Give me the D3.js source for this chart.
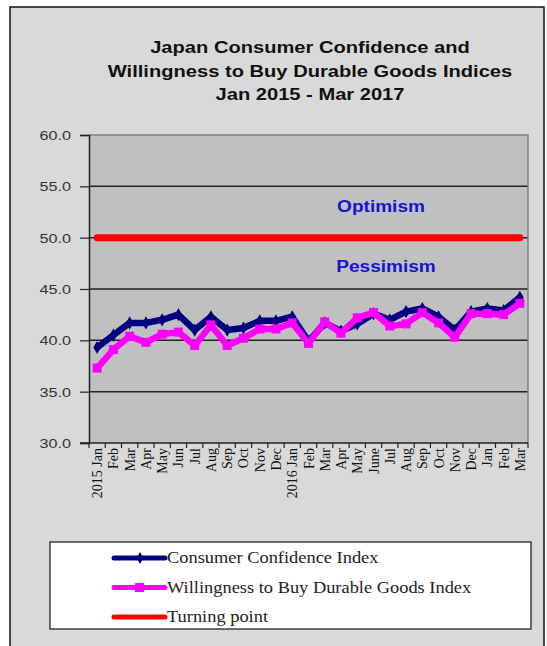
<!DOCTYPE html>
<html>
<head>
<meta charset="utf-8">
<script src="https://cdn.jsdelivr.net/npm/d3@7"></script>
<style>
body { margin: 0; background: #ffffff; }
svg { display: block; }
</style>
</head>
<body>
<div id="chart"></div>
<script>
// data
var months = ["2015 Jan","Feb","Mar","Apr","May","Jun","Jul","Aug","Sep","Oct","Nov","Dec",
              "2016 Jan","Feb","Mar","Apr","May","June","Jul","Aug","Sep","Oct","Nov","Dec",
              "Jan","Feb","Mar"];
var confidence = [39.3,40.5,41.7,41.7,42.0,42.5,41.0,42.3,41.0,41.2,41.9,41.9,
                  42.3,39.9,41.7,40.9,41.6,42.6,42.0,42.8,43.1,42.3,41.0,42.8,
                  43.1,42.9,44.2];
var durable = [37.3,39.1,40.4,39.8,40.6,40.8,39.5,41.5,39.5,40.2,41.1,41.1,
               41.7,39.7,41.8,40.7,42.2,42.7,41.4,41.6,42.7,41.7,40.3,42.6,
               42.6,42.5,43.6];
var turning = 50;
var yTicks = [30,35,40,45,50,55,60];

var W = 547, H = 646;
var margin = {top: 135, left: 89, right: 19, bottom: 203};
var width = W - margin.left - margin.right,
    height = H - margin.top - margin.bottom;

var sans = "Liberation Sans, Arial, sans-serif",
    serif = "Liberation Serif, Times New Roman, serif";

// the source picture is stretched sideways a little, so text is too
var stretched = function(sel, x, y, sx, txt){
  return sel.append("g").attr("transform", "translate(" + x + "," + y + ") scale(" + sx + ",1)")
    .append("text").text(txt);
};

var svg = d3.select("#chart").append("svg")
  .attr("width", W).attr("height", H);

// outer panel
svg.append("rect").attr("x", 0).attr("y", 0).attr("width", W).attr("height", H).attr("fill", "#ffffff");
svg.append("rect").attr("x", 10).attr("y", 7).attr("width", 534).attr("height", 650)
  .attr("fill", "#d9d9d9").attr("stroke", "#111").attr("stroke-width", 1.5);

// title
var title = ["Japan Consumer Confidence and", "Willingness to Buy Durable Goods Indices", "Jan 2015 - Mar 2017"];
title.forEach(function(t, i){
  stretched(svg, 310, 53 + i*23.5, 1.22, t)
    .attr("text-anchor", "middle")
    .style("font-family", sans).style("font-weight", "bold").style("font-size", "16.5px")
    .attr("fill", "#111");
});

var g = svg.append("g").attr("transform", "translate(" + margin.left + "," + margin.top + ")");

var x = d3.scaleBand().domain(d3.range(months.length)).range([0, width]);
var y = d3.scaleLinear().domain([30, 60]).range([height, 0]);

g.append("rect").attr("width", width).attr("height", height).attr("fill", "#c0c0c0");

// grid lines
g.append("g").selectAll("line").data(yTicks.filter(function(t){ return t > 30 && t < 60; }))
  .enter().append("line")
  .attr("x1", 0).attr("x2", width)
  .attr("y1", function(d){ return y(d); }).attr("y2", function(d){ return y(d); })
  .attr("stroke", "#222").attr("stroke-width", 1.5);

// plot frame (top & right)
g.append("path").attr("d", "M0,0H" + width + "V" + height)
  .attr("fill", "none").attr("stroke", "#808080").attr("stroke-width", 1.5);

// y axis
var yAxis = g.append("g").call(d3.axisLeft(y).tickValues(yTicks).tickFormat("").tickSize(9));
yAxis.select(".domain").attr("stroke", "#222").attr("stroke-width", 1.5);
yAxis.selectAll(".tick line").attr("stroke", "#222").attr("stroke-width", 1.2);
yTicks.forEach(function(t){
  stretched(g, -18, y(t) + 5, 1.2, d3.format(".1f")(t))
    .attr("text-anchor", "end")
    .style("font-family", sans).style("font-size", "13.5px").attr("fill", "#333");
});

// x axis: ticks between months
var xAxis = g.append("g").attr("transform", "translate(0," + height + ")");
xAxis.append("line").attr("x1", -9).attr("x2", width).attr("stroke", "#222").attr("stroke-width", 1.5);
xAxis.selectAll("line.tk").data(d3.range(months.length + 1)).enter().append("line")
  .attr("class", "tk")
  .attr("x1", function(d){ return d * x.step(); }).attr("x2", function(d){ return d * x.step(); })
  .attr("y1", 0).attr("y2", 5).attr("stroke", "#222").attr("stroke-width", 1.2);
xAxis.selectAll("text").data(months).enter().append("text")
  .attr("transform", function(d, i){ return "translate(" + (x(i) + x.bandwidth()/2 + 5) + ",5)rotate(-90)"; })
  .attr("text-anchor", "end")
  .style("font-family", serif)
  .style("font-size", "14px").attr("fill", "#111")
  .text(function(d){ return d; });

var cx = function(d, i){ return x(i) + x.bandwidth()/2; };

// turning point
g.append("line")
  .attr("x1", cx(0, 0)).attr("x2", cx(0, months.length - 1))
  .attr("y1", y(turning)).attr("y2", y(turning))
  .attr("stroke", "#ff0000").attr("stroke-width", 7).attr("stroke-linecap", "round");

stretched(g, 292, 77, 1.19, "Optimism").attr("text-anchor", "middle")
  .style("font-family", sans).style("font-weight", "bold")
  .style("font-size", "16px").attr("fill", "#1414d2");
stretched(g, 297, 137, 1.19, "Pessimism").attr("text-anchor", "middle")
  .style("font-family", sans).style("font-weight", "bold")
  .style("font-size", "16px").attr("fill", "#1414d2");

var line = d3.line().x(cx).y(function(d){ return y(d); });

// consumer confidence
g.append("path").datum(confidence).attr("d", line)
  .attr("fill", "none").attr("stroke", "#000080").attr("stroke-width", 6.5).attr("stroke-linejoin", "round");
g.append("g").selectAll("path").data(confidence).enter().append("path")
  .attr("d", d3.symbol().type(d3.symbolDiamond).size(50))
  .attr("transform", function(d, i){ return "translate(" + cx(d, i) + "," + y(d) + ")"; })
  .attr("fill", "#000080");

// durable goods
g.append("path").datum(durable).attr("d", line)
  .attr("fill", "none").attr("stroke", "#ff00ff").attr("stroke-width", 6.5).attr("stroke-linejoin", "round");
g.append("g").selectAll("rect").data(durable).enter().append("rect")
  .attr("x", function(d, i){ return cx(d, i) - 4.5; }).attr("y", function(d){ return y(d) - 4.5; })
  .attr("width", 9).attr("height", 9).attr("fill", "#ff00ff");

// legend
var legend = svg.append("g");
legend.append("rect").attr("x", 50).attr("y", 542).attr("width", 481).attr("height", 87)
  .attr("fill", "#ffffff").attr("stroke", "#111").attr("stroke-width", 1.2);
var legItems = [
  {name: "Consumer Confidence Index", color: "#000080", mark: "diamond"},
  {name: "Willingness to Buy Durable Goods Index", color: "#ff00ff", mark: "square"},
  {name: "Turning point", color: "#ff0000", mark: "none"}
];
legItems.forEach(function(d, i){
  var row = legend.append("g").attr("transform", "translate(0," + (558 + i*29.5) + ")");
  row.append("line").attr("x1", 114).attr("x2", 165).attr("stroke", d.color)
    .attr("stroke-width", 5).attr("stroke-linecap", "round");
  if (d.mark == "square")
    row.append("rect").attr("x", 135).attr("y", -4.5).attr("width", 9).attr("height", 9).attr("fill", d.color);
  if (d.mark == "diamond")
    row.append("path").attr("d", d3.symbol().type(d3.symbolDiamond).size(40))
      .attr("transform", "translate(140,0)").attr("fill", d.color);
  stretched(row, 167, 5, 1.15, d.name)
    .style("font-family", serif).style("font-size", "16px").attr("fill", "#222");
});
</script>
</body>
</html>
